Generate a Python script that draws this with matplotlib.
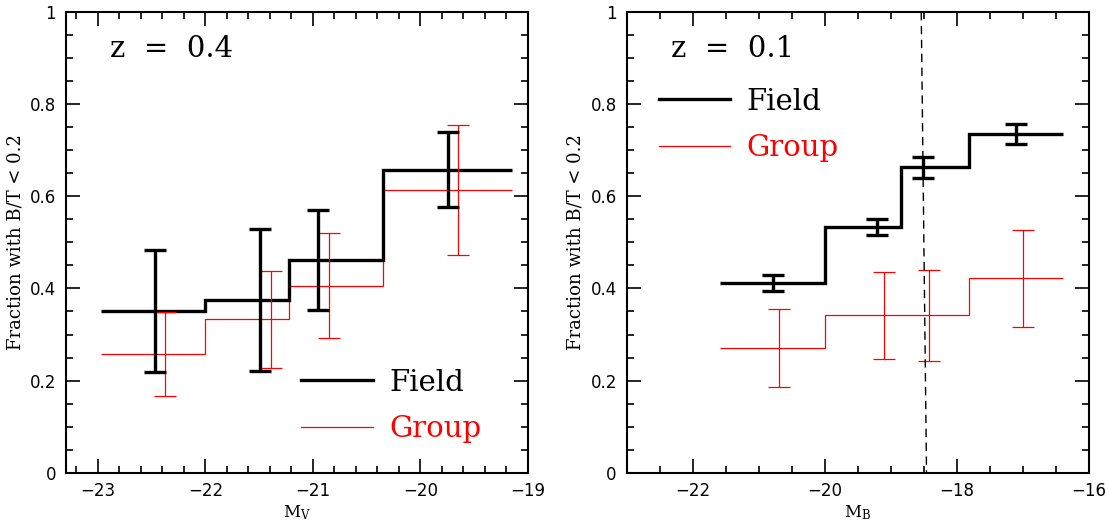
import matplotlib
matplotlib.use("Agg")
import matplotlib.pyplot as plt
from matplotlib.lines import Line2D
from matplotlib.ticker import MultipleLocator, FuncFormatter
import numpy as np

# z = 0.4 panel (M_V)
edges_v = [-22.97, -22.0, -21.22, -20.35, -19.15]
field_v = [0.350, 0.375, 0.461, 0.656]
group_v = [0.258, 0.333, 0.406, 0.614]
field_v_errx = [-22.47, -21.49, -20.95, -19.74]
field_v_lo = [0.218, 0.221, 0.353, 0.576]
field_v_hi = [0.483, 0.528, 0.570, 0.739]
group_v_errx = [-22.38, -21.39, -20.85, -19.65]
group_v_lo = [0.166, 0.227, 0.293, 0.473]
group_v_hi = [0.349, 0.438, 0.520, 0.755]

# z = 0.1 panel (M_B)
edges_b = [-21.58, -20.0, -18.85, -17.81, -16.40]
field_b = [0.411, 0.533, 0.664, 0.736]
group_b = [0.270, 0.342, 0.343, 0.422]
field_b_errx = [-20.79, -19.21, -18.52, -17.11]
field_b_lo = [0.394, 0.517, 0.640, 0.713]
field_b_hi = [0.429, 0.550, 0.686, 0.758]
group_b_errx = [-20.69, -19.11, -18.42, -17.00]
group_b_lo = [0.185, 0.247, 0.243, 0.316]
group_b_hi = [0.355, 0.436, 0.441, 0.527]
limit_x = [-18.54, -18.46]
limit_y = [1.0, 0.0]

serif = "DejaVu Serif"
tickfont = ["Liberation Sans Narrow", "DejaVu Sans"]


def fmt(v, pos):
    if abs(v) < 1e-9:
        return "0"
    if abs(v - 1) < 1e-9:
        return "1"
    return f"{v:g}".replace("-", "\u2212")


def panel(ax, edges, field, group, fx, flo, fhi, gx, glo, ghi, xlim, xmaj, xmin, ztext, xlabel):
    ax.stairs(group, edges, baseline=None, color="red", lw=0.9)
    ax.stairs(field, edges, baseline=None, color="black", lw=2.4)
    fx = np.array(fx); flo = np.array(flo); fhi = np.array(fhi)
    gx = np.array(gx); glo = np.array(glo); ghi = np.array(ghi)
    fy = (flo + fhi) / 2
    gy = (glo + ghi) / 2
    ax.errorbar(gx, gy, yerr=[gy - glo, ghi - gy], fmt="none", ecolor="red",
                elinewidth=0.9, capsize=8, capthick=0.9)
    ax.errorbar(fx, fy, yerr=[fy - flo, fhi - fy], fmt="none", ecolor="black",
                elinewidth=2.4, capsize=8, capthick=2.4)
    ax.set_xlim(*xlim)
    ax.set_ylim(0, 1)
    ax.xaxis.set_major_locator(MultipleLocator(xmaj))
    ax.xaxis.set_minor_locator(MultipleLocator(xmin))
    ax.yaxis.set_major_locator(MultipleLocator(0.2))
    ax.yaxis.set_minor_locator(MultipleLocator(0.05))
    ax.xaxis.set_major_formatter(FuncFormatter(fmt))
    ax.yaxis.set_major_formatter(FuncFormatter(fmt))
    ax.tick_params(which="both", direction="in", top=True, right=True, width=1.2)
    ax.tick_params(which="major", length=10, labelsize=12, pad=7)
    ax.tick_params(which="minor", length=5)
    for lab in ax.get_xticklabels() + ax.get_yticklabels():
        lab.set_family(tickfont)
    for s in ax.spines.values():
        s.set_linewidth(1.5)
    ax.set_ylabel("Fraction with B/T < 0.2", family=serif, fontsize=13, labelpad=4)
    ax.set_xlabel(xlabel, family=serif, fontsize=12, labelpad=2)
    ax.text(0.095, 0.92, ztext, transform=ax.transAxes, family=serif,
            fontsize=21, va="center", ha="left")


fig = plt.figure(figsize=(11.09, 5.25), dpi=100)
ax1 = fig.add_axes([0.0592, 0.0996, 0.4168, 0.8775])
ax2 = fig.add_axes([0.565, 0.0996, 0.417, 0.8775])

panel(ax1, edges_v, field_v, group_v, field_v_errx, field_v_lo, field_v_hi,
      group_v_errx, group_v_lo, group_v_hi, (-23.3, -19), 1, 0.2, "z  =  0.4",
      r"$\mathregular{M_V}$")
panel(ax2, edges_b, field_b, group_b, field_b_errx, field_b_lo, field_b_hi,
      group_b_errx, group_b_lo, group_b_hi, (-23, -16), 2, 0.5, "z  =  0.1",
      r"$\mathregular{M_B}$")
ax2.plot(limit_x, limit_y, color="black", lw=1.0, ls=(0, (6, 4)))

handles = [Line2D([], [], color="black", lw=2.4), Line2D([], [], color="red", lw=0.9)]
for ax, anchor in ((ax1, (0.51, 0.065)), (ax2, (0.07, 0.675))):
    leg = ax.legend(handles, ["Field", "Group"], loc="lower left", bbox_to_anchor=anchor,
                    frameon=False, handlelength=2.45, handletextpad=0.55,
                    labelspacing=0.62, borderpad=0, borderaxespad=0,
                    prop={"family": serif, "size": 21})
    leg.get_texts()[1].set_color("red")

fig.savefig("out.png", dpi=100)
